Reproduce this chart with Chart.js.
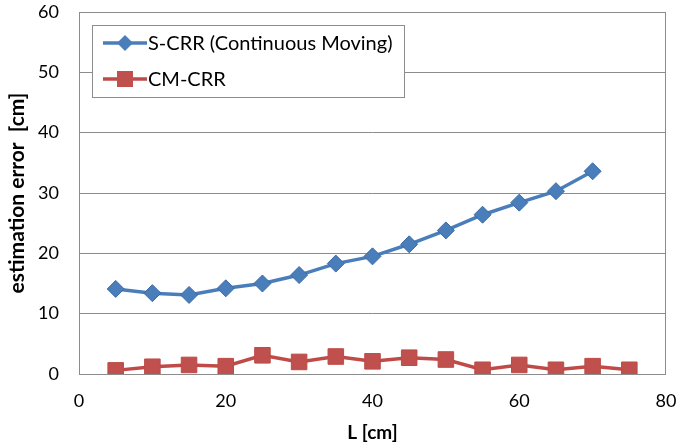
<!DOCTYPE html>
<html>
<head>
<meta charset="utf-8">
<script src="https://cdn.jsdelivr.net/npm/chart.js@4/dist/chart.umd.min.js"></script>
<style>
  html, body { margin: 0; padding: 0; background: #fff; }
  #wrap { width: 680px; height: 448px; }
</style>
</head>
<body>
<div id="wrap"><canvas id="chartErr" width="680" height="448"></canvas></div>
<script>
// L [cm]
const lengths = [5, 10, 15, 20, 25, 30, 35, 40, 45, 50, 55, 60, 65, 70, 75];
// estimation error [cm]
const scrrErr = [14.1, 13.4, 13.1, 14.2, 15.0, 16.4, 18.3, 19.5, 21.5, 23.8, 26.4, 28.4, 30.3, 33.6];
const cmcrrErr = [0.6, 1.2, 1.5, 1.3, 3.1, 2.0, 2.9, 2.1, 2.7, 2.4, 0.7, 1.5, 0.7, 1.3, 0.7];
const xTicks = [0, 20, 40, 60, 80];
const yTicks = [0, 10, 20, 30, 40, 50, 60];

const FONT = "Lato, 'Open Sans', sans-serif";

function toPoints(xs, ys) {
    return ys.map((y, i) => ({ x: xs[i], y: y }));
}

// frame round the plot + legend box drawn inside it
const framePlugin = {
    id: "frame",
    beforeDatasetsDraw(chart) {
        const a = chart.chartArea;
        const ctx = chart.ctx;
        ctx.save();
        ctx.strokeStyle = "#8c8c8c";
        ctx.lineWidth = 1;
        ctx.strokeRect(a.left + 0.5, a.top + 0.5, a.right - a.left - 1, a.bottom - a.top);
        ctx.restore();
    },
    afterDraw(chart) {
        const ctx = chart.ctx;
        const bx = 92, by = 25, bw = 312, bh = 72;
        ctx.save();
        ctx.fillStyle = "#fff";
        ctx.fillRect(bx, by, bw, bh);
        ctx.strokeStyle = "#8c8c8c";
        ctx.lineWidth = 1;
        ctx.strokeRect(bx + 0.5, by + 0.5, bw, bh);
        chart.data.datasets.forEach((ds, i) => {
            const cy = by + 18 + i * 36;
            ctx.strokeStyle = ds.borderColor;
            ctx.lineWidth = 3.5;
            ctx.beginPath();
            ctx.moveTo(bx + 11, cy);
            ctx.lineTo(bx + 55, cy);
            ctx.stroke();
            ctx.fillStyle = ds.pointBackgroundColor;
            const mx = bx + 33;
            if (ds.pointStyle === "rectRot") {
                ctx.beginPath();
                ctx.moveTo(mx, cy - 8);
                ctx.lineTo(mx + 8, cy);
                ctx.lineTo(mx, cy + 8);
                ctx.lineTo(mx - 8, cy);
                ctx.closePath();
                ctx.fill();
            } else {
                ctx.fillRect(mx - 8, cy - 8, 16, 16);
            }
            ctx.fillStyle = "#000";
            ctx.font = "20px " + FONT;
            ctx.textBaseline = "middle";
            ctx.fillText(ds.label, bx + 56, cy + 1);
        });
        ctx.restore();
    }
};

const ctx = document.getElementById("chartErr").getContext("2d");

new Chart(ctx, {
    type: "line",
    data: {
        datasets: [
            {
                label: "S-CRR (Continuous Moving)",
                data: toPoints(lengths, scrrErr),
                borderColor: "#4a7ebb",
                backgroundColor: "#4a7ebb",
                pointBackgroundColor: "#4a7ebb",
                pointBorderColor: "#3d6ba3",
                pointBorderWidth: 1,
                pointStyle: "rectRot",
                pointRadius: 8.5,
                borderWidth: 3.5,
                tension: 0
            },
            {
                label: "CM-CRR",
                data: toPoints(lengths, cmcrrErr),
                borderColor: "#be4b48",
                backgroundColor: "#be4b48",
                pointBackgroundColor: "#c0504d",
                pointBorderColor: "#be4b48",
                pointBorderWidth: 1,
                pointStyle: "rect",
                pointRadius: 11,
                borderWidth: 3.5,
                tension: 0
            }
        ]
    },
    options: {
        responsive: false,
        animation: false,
        layout: { padding: { left: 0, right: 14, top: 12, bottom: 0 } },
        plugins: {
            legend: { display: false },
            tooltip: { enabled: false }
        },
        scales: {
            x: {
                type: "linear",
                min: 0,
                max: 80,
                afterBuildTicks: s => { s.ticks = xTicks.map(v => ({ value: v })); },
                grid: { display: false, drawTicks: false },
                border: { display: false },
                ticks: {
                    padding: 16,
                    color: "#000",
                    font: { family: FONT, size: 18 }
                },
                title: {
                    display: true,
                    text: "L [cm]",
                    color: "#000",
                    font: { family: FONT, size: 19, weight: "bold" },
                    padding: { top: 4, bottom: 4 }
                },
                afterFit: s => {
                    s.height = 74;
                    s.paddingLeft = 0;
                    s.paddingRight = 0;
                }
            },
            y: {
                type: "linear",
                min: 0,
                max: 60,
                afterBuildTicks: s => { s.ticks = yTicks.map(v => ({ value: v })); },
                grid: { color: "#8c8c8c", lineWidth: 1, drawTicks: false },
                border: { display: false },
                ticks: {
                    padding: 20,
                    color: "#000",
                    font: { family: FONT, size: 18 }
                },
                title: {
                    display: true,
                    text: "estimation error  [cm]",
                    color: "#000",
                    font: { family: FONT, size: 21, weight: "bold" },
                    padding: { top: 5, bottom: 0 }
                },
                afterFit: s => {
                    s.width = 79;
                    s.paddingTop = 0;
                    s.paddingBottom = 0;
                }
            }
        }
    },
    plugins: [framePlugin]
});
</script>
</body>
</html>
